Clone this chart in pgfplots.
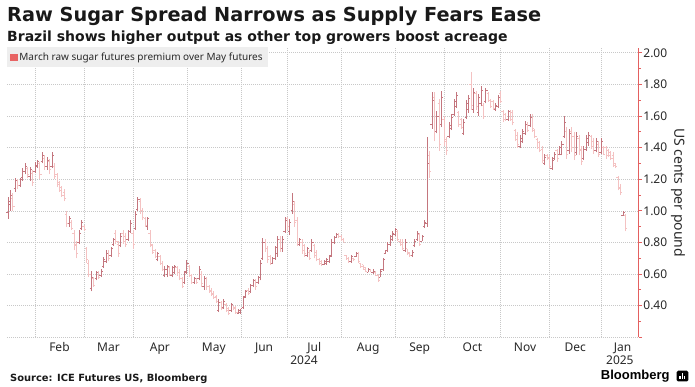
\documentclass[border=0pt]{standalone}
\usepackage{pgfplots}
\pgfplotsset{compat=1.18}
\usepackage{pgfplotstable}
\usepackage{fontspec}
\setmainfont{Noto Sans}
\newfontfamily\dvs{DejaVu Sans}
\newfontfamily\lib{Liberation Sans}
\definecolor{bardark}{RGB}{196,118,126}
\definecolor{barlight}{RGB}{244,194,194}
\definecolor{axred}{RGB}{228,96,96}
\definecolor{legred}{RGB}{232,100,100}
\definecolor{leggray}{RGB}{238,238,238}
\definecolor{gridgray}{RGB}{200,200,200}
\definecolor{txt}{RGB}{40,40,40}

\pgfdeclareplotmark{otick}{\pgfpathmoveto{\pgfqpoint{-\pgfplotmarksize}{0pt}}\pgfpathlineto{\pgfqpoint{0pt}{0pt}}\pgfusepathqstroke}
\pgfdeclareplotmark{ctick}{\pgfpathmoveto{\pgfqpoint{0pt}{0pt}}\pgfpathlineto{\pgfqpoint{\pgfplotmarksize}{0pt}}\pgfusepathqstroke}

\pgfplotstableread{
i h l o c
0 1.09 0.95 0.99 1.06
1 1.13 1.00 1.04 1.10
2 1.11 1.00 1.08 1.03
3 1.21 1.12 1.14 1.19
4 1.20 1.14 1.19 1.16
5 1.21 1.15 1.16 1.20
6 1.27 1.19 1.21 1.25
7 1.30 1.23 1.25 1.28
8 1.28 1.21 1.27 1.23
9 1.28 1.19 1.22 1.26
10 1.26 1.16 1.24 1.18
11 1.31 1.24 1.25 1.29
12 1.32 1.27 1.28 1.31
13 1.31 1.20 1.30 1.23
14 1.37 1.30 1.31 1.35
15 1.35 1.26 1.33 1.28
16 1.34 1.26 1.28 1.32
17 1.33 1.23 1.31 1.26
18 1.37 1.27 1.28 1.35
19 1.30 1.20 1.28 1.22
20 1.24 1.15 1.23 1.17
21 1.19 1.12 1.18 1.13
22 1.16 1.09 1.15 1.10
23 1.14 1.06 1.12 1.08
24 1.00 0.90 0.98 0.92
25 0.97 0.90 0.92 0.95
26 0.94 0.88 0.93 0.89
27 0.88 0.75 0.86 0.78
28 0.81 0.70 0.79 0.73
29 0.88 0.79 0.80 0.86
30 0.94 0.88 0.89 0.93
31 0.91 0.87 0.90 0.88
32 0.77 0.67 0.76 0.69
33 0.69 0.58 0.67 0.60
34 0.62 0.49 0.51 0.58
35 0.58 0.52 0.57 0.53
36 0.62 0.56 0.57 0.61
37 0.62 0.57 0.61 0.58
38 0.63 0.58 0.59 0.62
39 0.71 0.64 0.65 0.69
40 0.75 0.67 0.68 0.73
41 0.75 0.68 0.73 0.70
42 0.77 0.71 0.72 0.76
43 0.83 0.78 0.79 0.82
44 0.88 0.79 0.86 0.81
45 0.81 0.71 0.79 0.73
46 0.86 0.77 0.78 0.84
47 0.88 0.79 0.86 0.81
48 0.86 0.77 0.84 0.79
49 0.88 0.81 0.82 0.87
50 0.94 0.86 0.87 0.92
51 0.88 0.76 0.86 0.79
52 1.00 0.88 0.89 0.98
53 1.09 1.00 1.01 1.07
54 1.08 0.98 1.06 1.00
55 1.02 0.94 1.00 0.96
56 0.96 0.90 0.95 0.91
57 0.96 0.88 0.90 0.95
58 0.88 0.77 0.86 0.79
59 0.79 0.73 0.78 0.74
60 0.76 0.70 0.75 0.71
61 0.74 0.68 0.69 0.73
62 0.72 0.66 0.71 0.67
63 0.68 0.62 0.67 0.63
64 0.65 0.58 0.59 0.63
65 0.66 0.58 0.60 0.65
66 0.65 0.59 0.64 0.60
67 0.65 0.58 0.59 0.64
68 0.66 0.60 0.61 0.65
69 0.65 0.59 0.64 0.61
70 0.63 0.56 0.61 0.57
71 0.58 0.51 0.57 0.52
72 0.62 0.54 0.55 0.61
73 0.69 0.60 0.62 0.67
74 0.66 0.58 0.65 0.59
75 0.60 0.54 0.59 0.55
76 0.58 0.54 0.55 0.57
77 0.57 0.54 0.57 0.55
78 0.65 0.56 0.57 0.63
79 0.62 0.52 0.60 0.54
80 0.59 0.50 0.52 0.57
81 0.58 0.50 0.57 0.52
82 0.53 0.48 0.52 0.49
83 0.51 0.46 0.50 0.47
84 0.49 0.44 0.48 0.45
85 0.47 0.42 0.46 0.43
86 0.44 0.36 0.37 0.42
87 0.43 0.37 0.42 0.38
88 0.44 0.38 0.39 0.43
89 0.42 0.36 0.41 0.37
90 0.39 0.34 0.38 0.35
91 0.42 0.36 0.37 0.41
92 0.40 0.37 0.40 0.38
93 0.40 0.35 0.39 0.36
94 0.38 0.35 0.35 0.37
95 0.38 0.35 0.36 0.38
96 0.46 0.38 0.39 0.45
97 0.50 0.45 0.46 0.49
98 0.51 0.47 0.50 0.48
99 0.54 0.48 0.49 0.53
100 0.57 0.52 0.53 0.56
101 0.57 0.50 0.56 0.52
102 0.59 0.54 0.55 0.58
103 0.69 0.56 0.58 0.67
104 0.83 0.69 0.70 0.80
105 0.82 0.74 0.80 0.76
106 0.78 0.67 0.76 0.69
107 0.72 0.66 0.71 0.67
108 0.71 0.67 0.67 0.70
109 0.78 0.69 0.70 0.77
110 0.84 0.71 0.73 0.82
111 0.84 0.74 0.82 0.76
112 0.84 0.74 0.76 0.82
113 0.96 0.86 0.87 0.94
114 0.96 0.88 0.95 0.90
115 0.95 0.85 0.87 0.93
116 1.11 0.98 1.00 1.06
117 1.06 0.90 1.04 0.93
118 0.96 0.78 0.94 0.80
119 0.83 0.78 0.79 0.82
120 0.82 0.73 0.80 0.75
121 0.79 0.71 0.78 0.73
122 0.77 0.71 0.72 0.76
123 0.75 0.69 0.74 0.70
124 0.82 0.74 0.75 0.80
125 0.79 0.70 0.78 0.72
126 0.75 0.68 0.74 0.69
127 0.70 0.66 0.69 0.67
128 0.69 0.65 0.68 0.66
129 0.69 0.66 0.66 0.68
130 0.70 0.66 0.67 0.69
131 0.72 0.67 0.68 0.71
132 0.82 0.71 0.72 0.80
133 0.84 0.79 0.80 0.83
134 0.86 0.83 0.83 0.85
135 0.86 0.83 0.85 0.84
136 0.85 0.81 0.84 0.82
137 0.83 0.80 0.82 0.80
138 0.72 0.69 0.72 0.70
139 0.71 0.67 0.70 0.68
140 0.72 0.67 0.68 0.71
141 0.70 0.68 0.70 0.69
142 0.74 0.71 0.71 0.73
143 0.74 0.67 0.73 0.68
144 0.67 0.64 0.67 0.65
145 0.66 0.63 0.66 0.63
146 0.64 0.61 0.64 0.62
147 0.64 0.61 0.61 0.63
148 0.63 0.61 0.63 0.61
149 0.63 0.60 0.61 0.62
150 0.62 0.59 0.61 0.59
151 0.60 0.55 0.59 0.56
152 0.63 0.58 0.58 0.62
153 0.70 0.62 0.63 0.69
154 0.75 0.73 0.73 0.75
155 0.80 0.74 0.75 0.79
156 0.85 0.78 0.79 0.84
157 0.87 0.81 0.82 0.86
158 0.89 0.84 0.85 0.88
159 0.88 0.81 0.87 0.82
160 0.82 0.78 0.81 0.79
161 0.82 0.75 0.80 0.76
162 0.82 0.74 0.75 0.80
163 0.76 0.72 0.76 0.73
164 0.74 0.71 0.74 0.72
165 0.75 0.71 0.72 0.74
166 0.82 0.77 0.78 0.81
167 0.87 0.81 0.82 0.86
168 0.86 0.78 0.85 0.79
169 0.85 0.81 0.81 0.84
170 0.94 0.89 0.90 0.93
171 1.47 0.90 0.92 1.30
172 1.38 1.21 1.35 1.25
173 1.75 1.52 1.55 1.70
174 1.75 1.44 1.72 1.50
175 1.63 1.49 1.50 1.60
176 1.71 1.38 1.68 1.42
177 1.76 1.53 1.55 1.72
178 1.60 1.41 1.58 1.44
179 1.47 1.35 1.45 1.38
180 1.56 1.46 1.47 1.54
181 1.61 1.51 1.52 1.59
182 1.71 1.60 1.61 1.69
183 1.75 1.65 1.66 1.73
184 1.63 1.53 1.62 1.55
185 1.59 1.52 1.58 1.53
186 1.58 1.48 1.49 1.56
187 1.70 1.58 1.59 1.68
188 1.73 1.62 1.64 1.71
189 1.88 1.64 1.80 1.67
190 1.78 1.62 1.64 1.75
191 1.76 1.64 1.74 1.66
192 1.74 1.60 1.62 1.72
193 1.79 1.66 1.68 1.76
194 1.68 1.58 1.67 1.60
195 1.78 1.68 1.69 1.76
196 1.75 1.69 1.74 1.70
197 1.71 1.65 1.70 1.66
198 1.70 1.64 1.69 1.65
199 1.68 1.63 1.64 1.67
200 1.73 1.65 1.66 1.72
201 1.76 1.68 1.74 1.69
202 1.64 1.56 1.63 1.58
203 1.62 1.57 1.61 1.58
204 1.64 1.57 1.58 1.63
205 1.64 1.57 1.63 1.58
206 1.64 1.54 1.62 1.56
207 1.52 1.44 1.51 1.45
208 1.50 1.40 1.48 1.42
209 1.48 1.40 1.41 1.46
210 1.52 1.43 1.44 1.50
211 1.57 1.48 1.49 1.55
212 1.56 1.50 1.55 1.51
213 1.61 1.53 1.54 1.59
214 1.61 1.50 1.59 1.52
215 1.52 1.46 1.51 1.47
216 1.46 1.39 1.45 1.40
217 1.44 1.37 1.43 1.38
218 1.41 1.30 1.39 1.32
219 1.36 1.29 1.30 1.34
220 1.36 1.32 1.35 1.33
221 1.35 1.27 1.34 1.28
222 1.34 1.26 1.27 1.32
223 1.37 1.32 1.33 1.36
224 1.39 1.31 1.38 1.33
225 1.41 1.35 1.36 1.40
226 1.44 1.35 1.36 1.42
227 1.60 1.46 1.47 1.56
228 1.53 1.33 1.50 1.36
229 1.52 1.36 1.38 1.49
230 1.53 1.37 1.50 1.40
231 1.50 1.32 1.47 1.35
232 1.50 1.35 1.37 1.47
233 1.48 1.35 1.46 1.38
234 1.41 1.29 1.39 1.31
235 1.41 1.32 1.33 1.39
236 1.48 1.38 1.39 1.46
237 1.50 1.41 1.43 1.48
238 1.48 1.39 1.47 1.41
239 1.46 1.36 1.44 1.38
240 1.46 1.37 1.38 1.44
241 1.44 1.34 1.42 1.36
242 1.46 1.36 1.37 1.44
243 1.41 1.35 1.40 1.36
244 1.41 1.33 1.40 1.35
245 1.39 1.34 1.38 1.35
246 1.38 1.32 1.37 1.33
247 1.37 1.28 1.35 1.29
248 1.30 1.27 1.30 1.28
249 1.22 1.13 1.21 1.14
250 1.17 1.10 1.15 1.12
251 1.00 0.97 0.97 0.99
252 0.98 0.87 0.97 0.89
}\bars

\begin{document}
\begin{tikzpicture}[x=1pt,y=1pt]
\useasboundingbox (0,0) rectangle (695,387);
\begin{axis}[
  at={(7pt,49.7pt)}, anchor=south west,
  scale only axis, width=631.5pt, height=289.3pt,
  xmin=-0.4, xmax=257.3, ymin=0.2, ymax=2.03,
  axis x line=bottom, axis y line=right,
  x axis line style={draw=none},
  y axis line style={draw=axred, line width=0.8pt, -},
  xtick={21,41,62,84,104.5,125,147,168,189.5,211,231.5,250.8},
  xticklabels={Feb,Mar,Apr,May,Jun,Jul,Aug,Sep,Oct,Nov,Dec,Jan},
  minor xtick={11,31,51,73,95,114,136,158,178,201,221,242},
  xminorgrids, ymajorgrids,
  grid style={draw=gridgray, dash pattern=on 1pt off 1pt, line width=0.5pt},
  xtick align=inside,
  x tick style={draw=none},
  xticklabel style={font=\fontsize{12}{14}\selectfont, text=txt, anchor=base, inner sep=0pt, yshift=-14.4pt},
  extra x ticks={120.8,249.7},
  extra x tick labels={2024,2025},
  extra x tick style={grid=none, major tick length=0pt, xticklabel style={yshift=-13.3pt}},
  ytick={0.2,0.4,0.6,0.8,1.0,1.2,1.4,1.6,1.8,2.0},
  yticklabels={{},0.40,0.60,0.80,1.00,1.20,1.40,1.60,1.80,2.00},
  minor ytick={0.3,0.5,0.7,0.9,1.1,1.3,1.5,1.7,1.9},
  ytick align=outside,
  major tick length=3.5pt, minor tick length=2pt,
  y tick style={draw=axred, line width=0.8pt},
  yticklabel style={font=\fontsize{12}{14}\selectfont, text=txt, anchor=west, inner sep=0pt, xshift=1.2pt},
  ylabel={US cents per pound},
  every axis y label/.style={at={(axis description cs:1.0625,0.5)}, rotate=-90, anchor=center, font=\fontsize{14}{16}\selectfont, text=txt},
  legend style={at={(0,1)}, anchor=north west, draw=none, fill=leggray, font=\fontsize{10}{12}\selectfont, text=txt, inner xsep=3pt, inner ysep=3.2pt, yshift=0.7pt},
  legend cell align=left,
]
\addlegendimage{legend image code/.code={\fill[legred] (0pt,-3.4pt) rectangle (6.8pt,3.4pt);}}
\addlegendentry{March raw sugar futures premium over May futures}

\addplot[forget plot, draw=barlight, line width=0.8pt, mark=none, -,
  quiver={u=0, v=\thisrow{h}-\thisrow{l}},
  restrict expr to domain={\thisrow{c}-\thisrow{o}}{-10:-0.001}]
  table[x=i, y=l] {\bars};
\addplot[forget plot, only marks, mark=otick, mark size=1.7pt, mark options={draw=barlight, line width=0.7pt, solid},
  restrict expr to domain={\thisrow{c}-\thisrow{o}}{-10:-0.001}] table[x=i, y=o] {\bars};
\addplot[forget plot, only marks, mark=ctick, mark size=1.7pt, mark options={draw=barlight, line width=0.7pt, solid},
  restrict expr to domain={\thisrow{c}-\thisrow{o}}{-10:-0.001}] table[x=i, y=c] {\bars};

\addplot[forget plot, draw=bardark, line width=0.75pt, mark=none, -,
  quiver={u=0, v=\thisrow{h}-\thisrow{l}},
  restrict expr to domain={\thisrow{c}-\thisrow{o}}{0:10}]
  table[x=i, y=l] {\bars};
\addplot[forget plot, only marks, mark=otick, mark size=1.7pt, mark options={draw=bardark, line width=0.7pt, solid},
  restrict expr to domain={\thisrow{c}-\thisrow{o}}{0:10}] table[x=i, y=o] {\bars};
\addplot[forget plot, only marks, mark=ctick, mark size=1.7pt, mark options={draw=bardark, line width=0.7pt, solid},
  restrict expr to domain={\thisrow{c}-\thisrow{o}}{0:10}] table[x=i, y=c] {\bars};
\end{axis}

\node[anchor=base west, inner sep=0pt, font=\dvs\bfseries\fontsize{19.3}{22}\selectfont, text=black!90] at (7,365.3) {Raw Sugar Spread Narrows as Supply Fears Ease};
\node[anchor=base west, inner sep=0pt, font=\dvs\bfseries\fontsize{14}{16}\selectfont, text=black!90] at (7,345.3) {Brazil shows higher output as other top growers boost acreage};
\node[anchor=base west, inner sep=0pt, font=\dvs\bfseries\fontsize{9.9}{12}\selectfont, text=black!90] at (10,5.3) {Source: ICE Futures US, Bloomberg};
\node[anchor=base west, inner sep=0pt, font=\lib\bfseries\fontsize{13}{15}\selectfont, text=black] at (600.7,7) {Bloomberg};
\fill[black, rounded corners=1.5pt] (676.7,5.5) rectangle (688.3,16.3);
\fill[white] (679.3,8.2) rectangle (680.6,11.2);
\fill[white] (681.7,8.2) rectangle (683.0,13.8);
\fill[white] (684.1,8.2) rectangle (685.4,10.6);
\end{tikzpicture}
\end{document}
